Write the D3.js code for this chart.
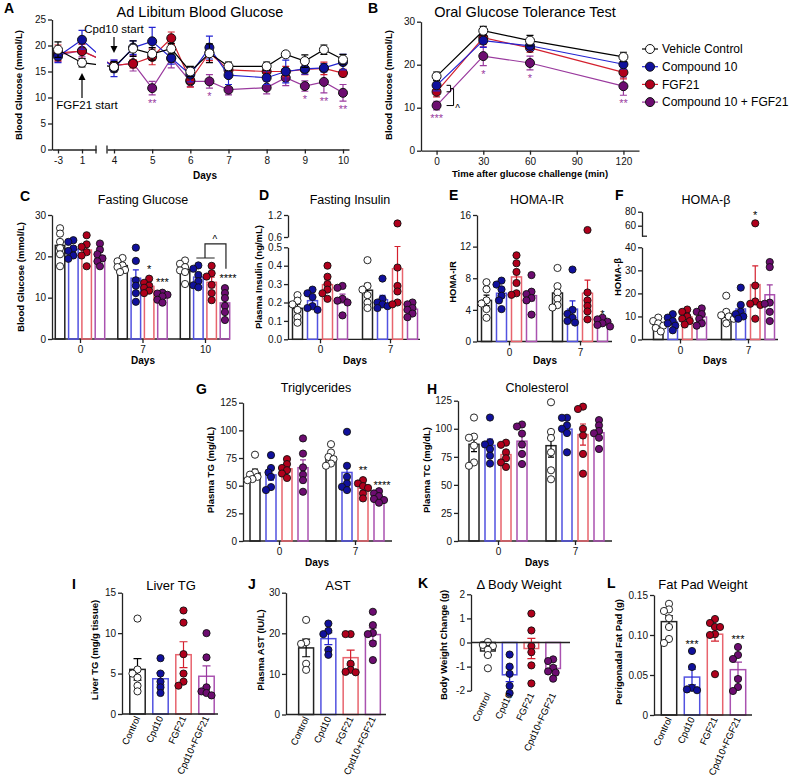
<!DOCTYPE html>
<html>
<head>
<meta charset="utf-8">
<script src="https://cdn.jsdelivr.net/npm/d3@7"></script>
<style>
  body { margin: 0; background: #fff; }
  text { font-family: "Liberation Sans", Arial, sans-serif; }
</style>
</head>
<body>
<script>
// ---------- data ----------
const seriesNames = ['Vehicle Control', 'Compound 10', 'FGF21', 'Compound 10 + FGF21'];
const shortNames = ['Control', 'Cpd10', 'FGF21', 'Cpd10+FGF21'];

// A: ad libitum blood glucose (mmol/L), mean / SEM
const adlibDays = [-3, 1, 4, 4.5, 5, 5.5, 6, 6.5, 7, 8, 8.5, 9, 9.5, 10];
const adlibVehicle = [19.2, 16.7, 15.9, 19.4, 18.4, 19.4, 15.0, 18.5, 16.0, 16.0, 18.3, 17.0, 19.2, 17.3];
const adlibCpd10 = [17.9, 21.1, 15.6, 19.6, 20.8, 17.6, 14.4, 19.6, 14.3, 13.8, 15.0, 15.5, 15.7, 16.8];
const adlibFgf21 = [18.6, 18.9, 16.2, 16.5, 17.8, 21.4, 13.3, 18.6, 15.3, 15.0, 15.0, 15.4, 15.6, 14.7];
const adlibCombo = [18.2, 19.0, 16.1, 16.6, 11.8, 17.5, 13.1, 13.1, 11.5, 11.9, 13.8, 12.2, 13.0, 10.9];
const adlibVehicleErr = [1.5, 0.8, 1.0, 1.5, 1.2, 1.0, 1.0, 1.8, 0.8, 0.8, 0.5, 1.2, 0.9, 1.0];
const adlibCpd10Err = [1.2, 1.8, 1.6, 1.3, 2.7, 1.2, 1.4, 2.2, 1.8, 1.3, 2.2, 1.0, 0.8, 1.5];
const adlibFgf21Err = [1.5, 1.4, 0.6, 0.8, 1.5, 1.2, 1.3, 1.5, 1.2, 1.0, 1.0, 1.0, 1.2, 0.7];
const adlibComboErr = [1.3, 1.2, 1.1, 1.5, 1.3, 1.8, 1.0, 1.3, 1.0, 1.2, 1.5, 1.0, 2.1, 1.6];
const adlibStars = [[5, '**'], [6.5, '*'], [9, '*'], [9.5, '**'], [10, '**']];

// B: OGTT (mmol/L)
const ogttTimes = [0, 30, 60, 120];
const ogttVehicle = [17.3, 27.9, 25.6, 21.8];
const ogttCpd10 = [15.2, 25.6, 24.4, 20.1];
const ogttFgf21 = [13.7, 26.3, 23.9, 18.2];
const ogttCombo = [10.5, 22.0, 20.4, 15.0];
const ogttVehicleErr = [1.0, 1.0, 1.2, 1.1];
const ogttCpd10Err = [1.3, 1.6, 1.0, 1.1];
const ogttFgf21Err = [1.2, 1.5, 1.0, 1.5];
const ogttComboErr = [1.0, 2.2, 1.6, 2.1];
const ogttStars = [[0, '***'], [30, '*'], [60, '*'], [120, '**']];

// C-H: individual animals, [day][treatment][animal]
const fastGlucoseDays = ['0', '7', '10'];
const fastGlucose = [
  [[26.8, 25.5, 23.5, 22.0, 20.5, 17.6], [23.9, 23.5, 21.9, 21.3, 20.2, 19.4], [25.1, 22.9, 22.3, 21.0, 20.2, 17.6], [23.1, 21.6, 20.5, 19.5, 18.8, 17.6]],
  [[19.6, 18.8, 17.8, 17.4, 16.7, 16.2], [22.1, 18.9, 14.2, 12.9, 11.1, 9.0], [14.6, 13.6, 12.9, 12.4, 11.7, 11.1], [11.2, 11.0, 10.7, 10.3, 9.5, 8.8]],
  [[19.0, 18.2, 17.4, 16.6, 16.2, 13.3], [17.8, 17.0, 15.5, 14.0, 13.0, 12.5], [17.7, 15.9, 15.1, 13.1, 11.1, 9.4], [12.3, 11.1, 9.9, 8.0, 6.5, 4.6]]
];
const fastGlucoseStars = [['7', 2, '*', 16], ['7', 3, '***', 12.8], ['10', 3, '****', 13.8]];

const insulinDays = ['0', '7'];
const insulin = [
  [[0.24, 0.21, 0.19, 0.16, 0.12, 0.09], [0.27, 0.25, 0.23, 0.18, 0.17, 0.16], [0.40, 0.34, 0.30, 0.27, 0.25, 0.22], [0.29, 0.28, 0.22, 0.21, 0.20, 0.13]],
  [[0.43, 0.29, 0.27, 0.24, 0.20, 0.17], [0.33, 0.22, 0.20, 0.19, 0.18, 0.17], [0.97, 0.39, 0.29, 0.26, 0.20, 0.19], [0.20, 0.19, 0.17, 0.16, 0.14, 0.12]]
];

const homaIRDays = ['0', '7'];
const homaIR = [
  [[7.5, 6.6, 5.2, 4.8, 4.1, 3.0], [7.7, 7.2, 6.6, 5.8, 5.2, 4.1], [10.9, 9.9, 8.8, 7.4, 6.1, 5.9], [8.4, 6.3, 6.0, 5.5, 5.2, 3.4]],
  [[9.3, 7.0, 6.2, 5.4, 4.6, 4.3], [9.1, 4.0, 3.5, 3.0, 2.6, 2.4], [14.1, 6.2, 5.2, 4.5, 3.8, 2.8], [3.0, 2.8, 2.5, 2.3, 2.1, 1.9]]
];
const homaIRStars = [['7', 3, '*', 3.0]];

const homaBDays = ['0', '7'];
const homaB = [
  [[9.5, 8.0, 7.0, 6.0, 5.0, 3.5], [11, 9.5, 8, 7, 6, 4], [13, 12, 10, 9, 8, 6.5], [13.5, 12, 11, 9, 7, 6]],
  [[19, 12, 10.5, 10, 9, 7], [22.5, 15, 12, 11, 10, 9], [63.4, 23.4, 16.5, 15.5, 15, 9], [33.6, 31.4, 16, 15.5, 12, 8]]
];
const homaBStars = [['7', 2, '*', 69.6]];

const tgDays = ['0', '7'];
const tg = [
  [[78, 62, 60, 58, 56, 55], [77.6, 66, 62, 58, 48.7, 46], [74, 69.5, 66, 64, 61, 57], [92.7, 79, 66.5, 60, 55, 44.5]],
  [[87.5, 80, 76, 74, 70, 68], [98.7, 68, 58, 52, 49, 46], [55, 52, 49.6, 48, 43, 38.5], [45, 43, 40.6, 38, 37, 34.6]]
];
const tgStars = [['7', 2, '**', 60.5], ['7', 3, '****', 47]];

const tcDays = ['0', '7'];
const tc = [
  [[110, 93, 92, 85, 70, 67], [110, 88, 86, 82, 76, 69], [87.6, 85.7, 79, 73.7, 70, 66], [103.8, 102, 95.7, 86, 77.6, 68.6]],
  [[123.6, 97.2, 91.8, 79, 63, 55], [109.8, 109.8, 103, 100, 96.2, 79], [119.7, 117.6, 100, 94, 77.6, 60], [107.7, 103, 98, 96, 92, 82]]
];

// I-L: [treatment][animal]
const liverTG = [[11.8, 5.5, 5, 4.5, 3.5, 2.8], [6.9, 5, 4, 3.3, 2.6], [12.8, 11.3, 7.4, 5, 4, 3.5], [10, 7, 3.3, 2.8, 2.6, 2.3]];
const ast = [[23.3, 17.8, 17.4, 12.5, 11], [22.4, 20.6, 19.8, 15.9, 14.7], [19.8, 19.8, 12.5, 11, 10.5, 10.4], [25.3, 22, 20.1, 19.8, 17.5, 13.4]];
const bodyWeight = [[0.02, -0.1, -0.15, -0.3, -0.52, -1.07], [-0.5, -1.0, -1.3, -1.8, -2.1], [1.2, 0.5, -0.15, -0.4, -0.95, -1.7], [-0.7, -0.77, -1.05, -1.2, -1.25, -1.5]];
const fatPad = [[0.139, 0.132, 0.13, 0.121, 0.11, 0.095, 0.09], [0.08, 0.06, 0.034, 0.032, 0.031], [0.12, 0.115, 0.11, 0.11, 0.101, 0.1, 0.051], [0.085, 0.075, 0.07, 0.045, 0.035, 0.03]];
const fatPadStars = [[1, '***', 0.084], [3, '***', 0.09]];

// ---------- styles ----------
const dotFill = ['#ffffff', '#10109c', '#b0001c', '#6c0c70'];
const lineColor = ['#000000', '#2424d2', '#d4202e', '#9a3a9e'];
const barStroke = ['#222222', '#5252e0', '#e8646e', '#aa52b0'];
const starColor = '#9a3a9e';

const svg = d3.select('body').append('svg')
  .attr('width', 789).attr('height', 778);

function label(x, y, txt, o = {}) {
  const t = svg.append('text').attr('x', x).attr('y', y).text(txt)
    .attr('font-size', o.size || 10)
    .attr('text-anchor', o.anchor || 'middle')
    .attr('font-weight', o.bold ? 'bold' : null)
    .attr('fill', o.fill || '#000');
  if (o.rotate) t.attr('transform', `rotate(${o.rotate},${x},${y})`);
  return t;
}

function styleAxis(g) {
  g.attr('font-family', null).attr('font-size', null);
  g.select('.domain').attr('stroke', '#222').attr('stroke-width', 1.3);
  g.selectAll('.tick line').attr('stroke', '#222').attr('stroke-width', 1.3);
  g.selectAll('.tick text').attr('font-size', 10).attr('fill', '#111');
  return g;
}

function yAxis(scale, x, ticks, fmt) {
  const g = svg.append('g').attr('transform', `translate(${x},0)`)
    .call(d3.axisLeft(scale).tickValues(ticks).tickSize(4).tickSizeOuter(0)
      .tickPadding(2).tickFormat(fmt || (d => String(d))));
  return styleAxis(g);
}

function errBar(g, cx, yt, yb, col, cap) {
  g.append('path')
    .attr('d', `M${cx},${yt}V${yb}M${cx - cap},${yt}H${cx + cap}M${cx - cap},${yb}H${cx + cap}`)
    .attr('stroke', col).attr('stroke-width', 1.2).attr('fill', 'none');
}

// ---------- line panels (A, B) ----------
function drawSeries(g, xs, means, errs, x, y, si, clip) {
  const col = lineColor[si];
  xs.forEach((d, i) => errBar(g, x(d), y(means[i] + errs[i]), y(means[i] - errs[i]), col, 3.5));
  g.append('path')
    .datum(xs.map((d, i) => [x(d), y(means[i])]))
    .attr('d', d3.line())
    .attr('fill', 'none').attr('stroke', col).attr('stroke-width', 1.2)
    .attr('clip-path', clip);
  g.selectAll(null).data(xs).join('circle')
    .attr('cx', d => x(d)).attr('cy', (d, i) => y(means[i])).attr('r', 4.5)
    .attr('fill', dotFill[si]).attr('stroke', '#111').attr('stroke-width', 1);
}

// Panel A
{
  const y = d3.scaleLinear().domain([0, 25]).range([149.5, 19.5]);
  const xl = d3.scaleLinear().domain([-4, 10 / 3]).range([52, 96]);
  const xr0 = d3.scaleLinear().domain([4, 10]).range([114, 343]);
  const xr = d3.scaleLinear().domain([xr0.invert(107), xr0.invert(349)]).range([107, 349]);
  const x = d => (d <= 2 ? xl(d) : xr(d));

  const defs = svg.append('defs');
  const cp = defs.append('clipPath').attr('id', 'clipA');
  cp.append('rect').attr('x', 40).attr('y', 0).attr('width', 56).attr('height', 170);
  cp.append('rect').attr('x', 107).attr('y', 0).attr('width', 260).attr('height', 170);

  yAxis(y, 52, d3.range(0, 26, 5));
  [xl, xr].forEach((sc, k) => {
    const g = svg.append('g').attr('transform', `translate(0,${y(0)})`)
      .call(d3.axisBottom(sc).tickValues(k ? [4, 5, 6, 7, 8, 9, 10] : [-3, 1])
        .tickSize(4).tickSizeOuter(0).tickFormat(d => String(d)));
    styleAxis(g);
  });
  [96, 107].forEach(bx => svg.append('line').attr('x1', bx).attr('x2', bx)
    .attr('y1', y(0) - 4).attr('y2', y(0) + 4).attr('stroke', '#222').attr('stroke-width', 1.3));

  const g = svg.append('g');
  const means = [adlibVehicle, adlibCpd10, adlibFgf21, adlibCombo];
  const errs = [adlibVehicleErr, adlibCpd10Err, adlibFgf21Err, adlibComboErr];
  [3, 2, 1, 0].forEach(si => drawSeries(g, adlibDays, means[si], errs[si], x, y, si, 'url(#clipA)'));

  adlibStars.forEach(([d, s]) => {
    const i = adlibDays.indexOf(d);
    label(x(d), y(adlibCombo[i] - adlibComboErr[i]) + 12, s, { size: 11, fill: starColor });
  });

  // arrows
  const ax1 = xr(4), ax2 = xl(1);
  svg.append('path').attr('d', `M${ax1},37V49`).attr('stroke', '#000').attr('stroke-width', 1.2);
  svg.append('path').attr('d', `M${ax1 - 3.5},46L${ax1},53L${ax1 + 3.5},46Z`).attr('fill', '#000');
  svg.append('path').attr('d', `M${ax2},98V77`).attr('stroke', '#000').attr('stroke-width', 1.2);
  svg.append('path').attr('d', `M${ax2 - 3.5},80L${ax2},73L${ax2 + 3.5},80Z`).attr('fill', '#000');
  label(ax1, 33, 'Cpd10 start', { size: 11.5 });
  label(87, 109, 'FGF21 start', { size: 11.5 });

  label(4, 13, 'A', { size: 14, bold: true, anchor: 'start' });
  label(200, 17, 'Ad Libitum Blood Glucose', { size: 14.5 });
  label(22, 85, 'Blood Glucose (mmol/L)', { size: 9.5, bold: true, rotate: -90 });
  label(205, 179, 'Days', { size: 10, bold: true });
}

// Panel B
{
  const y = d3.scaleLinear().domain([0, 30]).range([150.7, 21.7]);
  const x = d3.scaleLinear().domain([-10, 130]).range([421, 639]);
  yAxis(y, 421, [0, 10, 20, 30]);
  const gx = svg.append('g').attr('transform', `translate(0,${y(0)})`)
    .call(d3.axisBottom(x).tickValues([0, 30, 60, 90, 120]).tickSize(4).tickSizeOuter(0));
  styleAxis(gx);

  const g = svg.append('g');
  const means = [ogttVehicle, ogttCpd10, ogttFgf21, ogttCombo];
  const errs = [ogttVehicleErr, ogttCpd10Err, ogttFgf21Err, ogttComboErr];
  [3, 2, 1, 0].forEach(si => drawSeries(g, ogttTimes, means[si], errs[si], x, y, si, null));

  ogttStars.forEach(([t, s]) => {
    const i = ogttTimes.indexOf(t);
    label(x(t), y(ogttCombo[i] - ogttComboErr[i]) + 12, s, { size: 11, fill: starColor });
  });

  // bracket at t = 0
  const bx = x(0) + 10, yb = y(ogttCpd10[0]), yr = y(ogttFgf21[0]), yp = y(ogttCombo[0]);
  svg.append('path')
    .attr('d', `M${bx},${yb}H${bx + 4}V${yr}H${bx}M${bx + 4},${(yb + yr) / 2}H${bx + 7}V${yp}H${bx}`)
    .attr('fill', 'none').attr('stroke', '#000').attr('stroke-width', 1);
  label(bx + 11, yp + 6, '^', { size: 10 });

  // legend
  seriesNames.forEach((n, i) => {
    const ly = 49 + i * 17.7;
    svg.append('line').attr('x1', 642).attr('x2', 658).attr('y1', ly).attr('y2', ly)
      .attr('stroke', lineColor[i]).attr('stroke-width', 1.2);
    svg.append('circle').attr('cx', 650).attr('cy', ly).attr('r', 4.5)
      .attr('fill', dotFill[i]).attr('stroke', '#111').attr('stroke-width', 1);
    label(662, ly + 4.3, n, { size: 12, anchor: 'start' });
  });

  label(368, 13, 'B', { size: 14, bold: true, anchor: 'start' });
  label(525, 17, 'Oral Glucose Tolerance Test', { size: 14.5 });
  label(392, 85, 'Blood Glucose (mmol/L)', { size: 9.5, bold: true, rotate: -90 });
  label(530, 177, 'Time after glucose challenge (min)', { size: 9.5, bold: true });
}

// ---------- bar + dot helpers ----------
function swarm(vals, y, cx, r) {
  const placed = [];
  vals.slice().sort((a, b) => b - a).forEach(v => {
    const py = y(v);
    const offs = [0, -1, 1, -2, 2, -3, 3];
    for (const k of offs) {
      const px = cx + k * r * 0.7;
      if (placed.every(p => Math.hypot(p.x - px, p.y - py) >= r * 1.35)) { placed.push({ x: px, y: py }); return; }
    }
    placed.push({ x: cx, y: py });
  });
  return placed;
}

function barWithDots(g, vals, cx, y, barW, si, r, cap) {
  const m = d3.mean(vals);
  const se = d3.deviation(vals) / Math.sqrt(vals.length);
  const y0 = y(0), ym = y(m);
  g.append('rect')
    .attr('x', cx - barW / 2).attr('width', barW)
    .attr('y', Math.min(y0, ym)).attr('height', Math.abs(y0 - ym))
    .attr('fill', 'none').attr('stroke', barStroke[si]).attr('stroke-width', 1.5);
  errBar(g, cx, y(m + se), y(m - se), lineColor[si], cap);
  g.selectAll(null).data(swarm(vals, y, cx, r)).join('circle')
    .attr('cx', p => p.x).attr('cy', p => p.y).attr('r', r)
    .attr('fill', dotFill[si]).attr('stroke', '#111').attr('stroke-width', 0.9);
}

function groupedPanel(o) {
  const gx = d3.scalePoint().domain(o.groups).range(o.span);
  const sx = d3.scalePoint().domain(d3.range(4)).range([-1.5 * o.step, 1.5 * o.step]);
  const y0 = o.y(0);
  svg.append('line').attr('x1', o.axisX).attr('x2', o.axisEnd).attr('y1', y0).attr('y2', y0)
    .attr('stroke', '#222').attr('stroke-width', 1.3);
  const ga = svg.append('g').attr('transform', `translate(0,${y0})`)
    .call(d3.axisBottom(gx).tickSize(4).tickSizeOuter(0));
  styleAxis(ga);
  ga.select('.domain').remove();

  const g = svg.append('g');
  o.data.forEach((grp, gi) => grp.forEach((vals, si) =>
    barWithDots(g, vals, gx(o.groups[gi]) + sx(si), o.y, o.barW, si, 3.6, 3)));
  (o.stars || []).forEach(([grp, si, s, v]) =>
    label(gx(grp) + sx(si) + (s.length > 3 ? 3 : 0), o.y(v), s, { size: 11 }));
  return { gx, sx };
}

function catPanel(o) {
  const x = d3.scaleBand().domain(shortNames).range(o.span).paddingInner(0.33).paddingOuter(0.165);
  const g = svg.append('g');
  const y0 = o.y(0);
  svg.append('line').attr('x1', o.axisX).attr('x2', o.axisEnd).attr('y1', y0).attr('y2', y0)
    .attr('stroke', '#222').attr('stroke-width', 1.3);
  o.data.forEach((vals, si) =>
    barWithDots(g, vals, x(shortNames[si]) + x.bandwidth() / 2, o.y, x.bandwidth(), si, 3.6, 4));
  const ly = o.labelY || y0;
  shortNames.forEach(n => {
    const cx = x(n) + x.bandwidth() / 2 + 3;
    label(cx, ly + 4, n, { size: 9.5, anchor: 'end', rotate: -65 });
  });
  (o.stars || []).forEach(([si, s, v]) =>
    label(x(shortNames[si]) + x.bandwidth() / 2, o.y(v), s, { size: 11 }));
}

// Panel C
{
  const y = d3.scaleLinear().domain([0, 30]).range([339, 215]);
  yAxis(y, 52, [0, 10, 20, 30]);
  const { gx, sx } = groupedPanel({ groups: fastGlucoseDays, data: fastGlucose, y, span: [80, 205],
    step: 13.3, barW: 9.5, axisX: 52, axisEnd: 230, stars: fastGlucoseStars });
  // bracket for day 10
  const xb = gx('10') + sx(1), xr = gx('10') + sx(2), xp = gx('10') + sx(3);
  const mid = (xb + xr) / 2;
  svg.append('path')
    .attr('d', `M${xb - 2},${y(19.6)}H${xr + 3}M${mid},${y(19.6)}V${y(23)}H${xp + 1}V${y(17)}`)
    .attr('fill', 'none').attr('stroke', '#222').attr('stroke-width', 1.2);
  label((mid + xp) / 2, y(23) - 1, '^', { size: 10 });
  label(20, 201, 'C', { size: 14, bold: true, anchor: 'start' });
  label(143, 204, 'Fasting Glucose', { size: 12.5 });
  label(24, 277, 'Blood Glucose (mmol/L)', { size: 9.5, bold: true, rotate: -90 });
  label(143, 364, 'Days', { size: 10, bold: true });
}

// Panel D (broken axis)
{
  const yl = d3.scaleLinear().domain([0, 0.5]).range([339.3, 247.3]);
  const yu = d3.scaleLinear().domain([0.6, 1.2]).range([237, 215]);
  const y = v => (v <= 0.55 ? yl(v) : yu(v));
  yAxis(yl, 288, [0, 0.1, 0.2, 0.3, 0.4, 0.5], d3.format('.1f'));
  yAxis(yu, 288, [0.6, 1.2], d3.format('.1f'));
  groupedPanel({ groups: insulinDays, data: insulin, y, span: [320, 390],
    step: 15, barW: 10, axisX: 288, axisEnd: 420 });
  label(259, 200, 'D', { size: 14, bold: true, anchor: 'start' });
  label(350, 204, 'Fasting Insulin', { size: 12.5 });
  label(262, 277, 'Plasma Insulin (ng/mL)', { size: 9.5, bold: true, rotate: -90 });
  label(355, 364, 'Days', { size: 10, bold: true });
}

// Panel E
{
  const y = d3.scaleLinear().domain([0, 16]).range([341.5, 215]);
  yAxis(y, 477, [0, 4, 8, 12, 16]);
  groupedPanel({ groups: homaIRDays, data: homaIR, y, span: [509, 580],
    step: 15, barW: 10, axisX: 477, axisEnd: 612, stars: homaIRStars });
  label(449, 200, 'E', { size: 14, bold: true, anchor: 'start' });
  label(537, 204, 'HOMA-IR', { size: 12.5 });
  label(456, 282, 'HOMA-IR', { size: 9.5, bold: true, rotate: -90 });
  label(545, 364, 'Days', { size: 10, bold: true });
}

// Panel F (broken axis)
{
  const yl = d3.scaleLinear().domain([0, 40]).range([339.5, 247.3]);
  const yu = d3.scaleLinear().domain([45, 80]).range([236.2, 211.7]);
  const y = v => (v <= 42 ? yl(v) : yu(v));
  yAxis(yl, 642, [0, 10, 20, 30, 40]);
  yAxis(yu, 642, [60, 80]);
  svg.append('line').attr('x1', 642).attr('x2', 647).attr('y1', yu(45)).attr('y2', yu(45))
    .attr('stroke', '#222').attr('stroke-width', 1.3);
  groupedPanel({ groups: homaBDays, data: homaB, y, span: [680, 748],
    step: 14.5, barW: 9.5, axisX: 642, axisEnd: 778, stars: homaBStars });
  label(615, 200, 'F', { size: 14, bold: true, anchor: 'start' });
  label(706, 204, 'HOMA-β', { size: 12.5 });
  label(621, 277, 'HOMA-β', { size: 9.5, bold: true, rotate: -90 });
  label(715, 364, 'Days', { size: 10, bold: true });
}

// Panel G
{
  const y = d3.scaleLinear().domain([0, 125]).range([541, 402.7]);
  yAxis(y, 243, d3.range(0, 126, 25));
  groupedPanel({ groups: tgDays, data: tg, y, span: [279, 355],
    step: 16, barW: 10, axisX: 243, axisEnd: 392, stars: tgStars });
  label(196, 394, 'G', { size: 14, bold: true, anchor: 'start' });
  label(316, 392, 'Triglycerides', { size: 12.5 });
  label(214, 470, 'Plasma TG (mg/dL)', { size: 9.5, bold: true, rotate: -90 });
  label(317, 566, 'Days', { size: 10, bold: true });
}

// Panel H
{
  const y = d3.scaleLinear().domain([0, 125]).range([541, 400.7]);
  yAxis(y, 458, d3.range(0, 126, 25));
  groupedPanel({ groups: tcDays, data: tc, y, span: [498, 575],
    step: 16, barW: 10, axisX: 458, axisEnd: 612 });
  label(427, 394, 'H', { size: 14, bold: true, anchor: 'start' });
  label(537, 392, 'Cholesterol', { size: 12.5 });
  label(430, 470, 'Plasma TC (mg/dL)', { size: 9.5, bold: true, rotate: -90 });
  label(537, 566, 'Days', { size: 10, bold: true });
}

// Panel I
{
  const y = d3.scaleLinear().domain([0, 15]).range([714, 592.7]);
  yAxis(y, 122, [0, 5, 10, 15]);
  catPanel({ data: liverTG, y, span: [126, 218], axisX: 122, axisEnd: 218 });
  label(72, 589, 'I', { size: 14, bold: true, anchor: 'start' });
  label(171, 590, 'Liver TG', { size: 13 });
  label(98, 650, 'Liver TG (mg/g tissue)', { size: 9.5, bold: true, rotate: -90 });
}

// Panel J
{
  const y = d3.scaleLinear().domain([0, 30]).range([714.5, 592.7]);
  yAxis(y, 286, [0, 10, 20, 30]);
  catPanel({ data: ast, y, span: [295, 384], axisX: 286, axisEnd: 386 });
  label(248, 589, 'J', { size: 14, bold: true, anchor: 'start' });
  label(338, 590, 'AST', { size: 13 });
  label(264, 650, 'Plasma AST (IU/L)', { size: 9.5, bold: true, rotate: -90 });
}

// Panel K
{
  const y = d3.scaleLinear().domain([-2, 2]).range([690.7, 594.3]);
  yAxis(y, 471, [-2, -1, 0, 1, 2]);
  catPanel({ data: bodyWeight, y, span: [477, 564], axisX: 471, axisEnd: 570, labelY: y(-2) });
  label(418, 588, 'K', { size: 14, bold: true, anchor: 'start' });
  label(519, 589, 'Δ Body Weight', { size: 13 });
  label(447, 645, 'Body Weight Change (g)', { size: 9.5, bold: true, rotate: -90 });
}

// Panel L
{
  const y = d3.scaleLinear().domain([0, 0.15]).range([715, 595]);
  yAxis(y, 654, [0, 0.05, 0.10, 0.15], d => (d === 0 ? '0' : d3.format('.2f')(d)));
  catPanel({ data: fatPad, y, span: [657.5, 749.5], axisX: 654, axisEnd: 752, stars: fatPadStars });
  label(607, 588, 'L', { size: 14, bold: true, anchor: 'start' });
  label(703, 589, 'Fat Pad Weight', { size: 13 });
  label(622, 652, 'Perigonadal Fat Pad (g)', { size: 9.5, bold: true, rotate: -90 });
}
</script>
</body>
</html>
